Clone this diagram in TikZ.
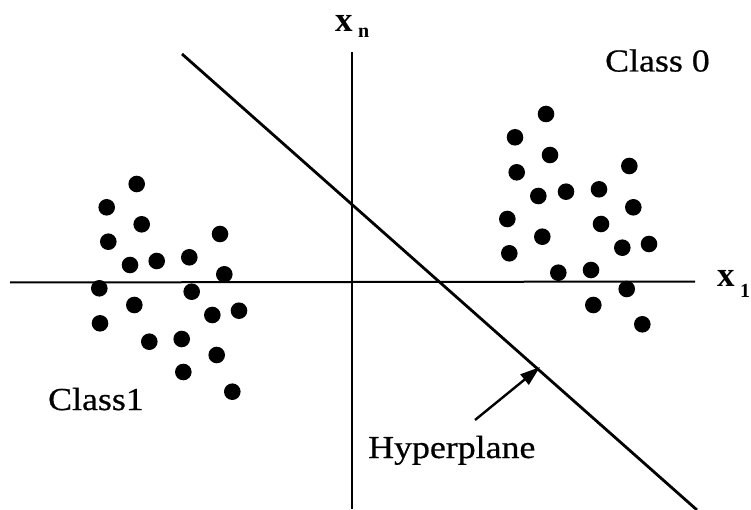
\documentclass[tikz,border=0pt]{standalone}
\usepackage{fontspec}
\setmainfont{Liberation Serif}
\newfontfamily\labfont[FakeStretch=1.12,FakeBold=0.6]{Liberation Serif}
\usetikzlibrary{arrows.meta}
\begin{document}
\begin{tikzpicture}[x=1pt,y=-1pt,
  axis/.style={line width=2pt},
  hyper/.style={line width=2.8pt},
  pointer/.style={line width=2.4pt,-{Triangle[length=20pt,width=13pt]}},
  dotfill/.style={fill=black},
  lab/.style={inner sep=0pt,anchor=base west,font=\labfont\fontsize{32}{36}\selectfont},
  axlab/.style={inner sep=0pt,anchor=base west,font=\fontsize{35}{40}\selectfont\bfseries},
  axsub/.style={inner sep=0pt,anchor=base west,font=\fontsize{20}{22}\selectfont\bfseries}]
\useasboundingbox (0,0) rectangle (751,510);
% axes
\coordinate (hl) at (10,282.5);
\coordinate (hr) at (695,281.5);
\coordinate (vt) at (351.5,52);
\coordinate (vb) at (351.5,509);
\draw[axis] (hl) -- (hr);
\draw[axis] (vt) -- (vb);
% hyperplane
\coordinate (ht) at (182,54);
\coordinate (hb) at (697,510);
\draw[hyper] (ht) -- (hb);
% class 1 points
\foreach \px/\py in {136.7/184,106.7/207.3,141.7/224.3,108.3/241.7,220/234,130/265,156.7/261,189.3/257.3,224.3/274.3,99.3/288.3,191.7/291.7,134.3/305,239/310.7,212.3/315,100/323.3,149.3/341.7,181.7/339,216.7/355,183.3/372,232.3/391.7}
  \fill[dotfill] (\px,\py) circle[radius=8.3];
% class 0 points
\foreach \px/\py in {546/114,515/137.3,550/155,516.7/172.3,629.3/166,538.3/196,566/191.7,599/189.3,633.3/207.3,507.3/219,601/224,542.3/236.7,509.3/253.3,622.3/247.7,649/244,558.3/272.7,591/270,626.7/289,593.3/305,642.3/324.3}
  \fill[dotfill] (\px,\py) circle[radius=8.3];
% labels
\node[axlab] (xn) at (335,31.5) {x};
\node[axsub] (xnsub) at (358,38) {n};
\node[axlab] (x1) at (717,287) {x};
\node[axsub] (x1sub) at (740,297) {1};
\node[lab] (c0) at (605,71.5) {Class 0};
\node[lab] (c1) at (48,410) {Class1};
\node[lab] (hp) at (368,458) {Hyperplane};
% pointer
\coordinate (ptail) at (475,420);
\coordinate (ptip) at (540,367);
\draw[pointer] (ptail) -- (ptip);
\end{tikzpicture}
\end{document}
